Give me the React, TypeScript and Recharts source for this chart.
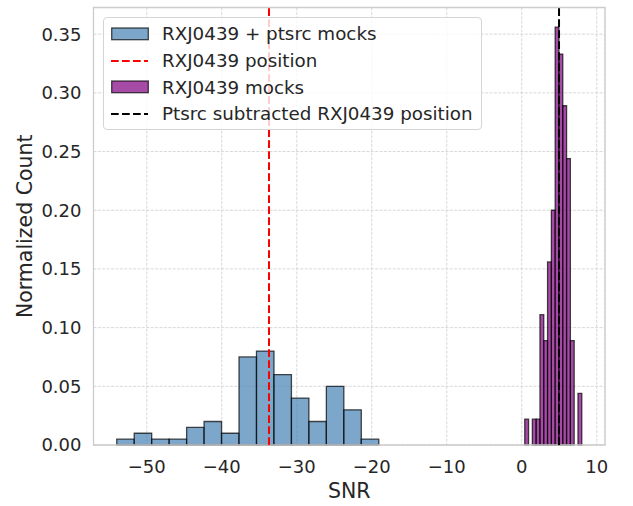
import { ComposedChart, XAxis, YAxis, CartesianGrid, ReferenceArea, ReferenceLine } from 'recharts';

// histogram of SNR, density normalized
const ptsrcStart = -54.0;
const ptsrcBinWidth = 2.329;
const ptsrcDensity = [0.005, 0.01, 0.005, 0.005, 0.015, 0.02, 0.01, 0.075, 0.08, 0.06, 0.04, 0.02, 0.05, 0.03, 0.005];

const mockStart = 0.4;
const mockBinWidth = 0.507;
const mockDensity = [0.022, 0, 0.022, 0.022, 0.111, 0.089, 0.156, 0.2, 0.356, 0.333, 0.289, 0.244, 0.089, 0, 0.044];

const rxjPosition = -33.7;
const ptsrcSubPosition = 4.97;

const xTicks = [-50, -40, -30, -20, -10, 0, 10];
const yTicks = [0, 0.05, 0.1, 0.15, 0.2, 0.25, 0.3, 0.35];
const xDomain: [number, number] = [-57.1, 11.1];
const yDomain: [number, number] = [0, 0.3727];

const FONT = '"DejaVu Sans", sans-serif';
const TEXT = '#262626';
const BLUE = '#4682b4';
const PURPLE = '#800080';

const toBins = (start: number, w: number, vals: number[]) =>
  vals.map((v, i) => ({ x1: start + i * w, x2: start + (i + 1) * w, y: v }));

const ptsrcBins = toBins(ptsrcStart, ptsrcBinWidth, ptsrcDensity);
const mockBins = toBins(mockStart, mockBinWidth, mockDensity).filter((b) => b.y > 0);

const fmtX = (v: number) => (v < 0 ? '\u2212' + Math.abs(v) : String(v));

function LegendBox() {
  const rows = [
    { kind: 'patch', color: BLUE, label: 'RXJ0439 + ptsrc mocks' },
    { kind: 'line', color: '#ff0000', label: 'RXJ0439 position' },
    { kind: 'patch', color: PURPLE, label: 'RXJ0439 mocks' },
    { kind: 'line', color: '#000000', label: 'Ptsrc subtracted RXJ0439 position' },
  ];
  return (
    <div
      style={{
        position: 'absolute',
        left: 103,
        top: 17,
        width: 379,
        height: 113,
        border: '1px solid #d5d5d5',
        borderRadius: 4,
        background: 'rgba(255,255,255,0.8)',
        paddingTop: 2.5,
        boxSizing: 'border-box',
      }}
    >
      {rows.map((r) => (
        <div key={r.label} style={{ display: 'flex', alignItems: 'center', height: 26.7 }}>
          <svg width={38} height={14} style={{ marginLeft: 7, flex: 'none' }}>
            {r.kind === 'patch' ? (
              <rect x={0.7} y={1} width={36.6} height={11.7} fill={r.color} fillOpacity={0.7} stroke="#000" strokeOpacity={0.7} strokeWidth={1.3} />
            ) : (
              <line x1={0} x2={37} y1={7} y2={7} stroke={r.color} strokeWidth={2} strokeDasharray="7.7 3.3" />
            )}
          </svg>
          <span style={{ marginLeft: 13, fontSize: 18.3, color: TEXT, fontFamily: FONT, whiteSpace: 'nowrap' }}>{r.label}</span>
        </div>
      ))}
    </div>
  );
}

export default function App() {
  return (
    <div style={{ position: 'absolute', left: 0, top: 0, width: 633, height: 506, background: '#fff', fontFamily: FONT }}>
      <ComposedChart width={633} height={506} margin={{ top: 7.5, right: 28, bottom: 0, left: 0 }} data={ptsrcBins}>
        <CartesianGrid stroke="#d4d4d4" strokeWidth={0.9} strokeDasharray="3 1.4" />
        <XAxis
          type="number"
          dataKey="x1"
          domain={xDomain}
          allowDataOverflow
          ticks={xTicks}
          tickFormatter={fmtX}
          tickLine={false}
          axisLine={false}
          height={61}
          tickSize={0}
          tickMargin={15}
          tick={{ fill: TEXT, fontSize: 18, fontFamily: FONT }}
          label={() => (
            <text x={349.25} y={497.5} textAnchor="middle" fill={TEXT} fontSize={20.5} fontFamily={FONT}>
              SNR
            </text>
          )}
        />
        <YAxis
          type="number"
          domain={yDomain}
          allowDataOverflow
          ticks={yTicks}
          tickFormatter={(v: number) => v.toFixed(2)}
          tickLine={false}
          axisLine={false}
          width={93.5}
          tickSize={0}
          tickMargin={12}
          tick={{ fill: TEXT, fontSize: 18, fontFamily: FONT }}
          label={() => (
            <text x={31.5} y={226.25} transform="rotate(-90 31.5 226.25)" textAnchor="middle" fill={TEXT} fontSize={20.5} fontFamily={FONT}>
              Normalized Count
            </text>
          )}
        />
        {ptsrcBins.map((b, i) => (
          <ReferenceArea
            key={'p' + i}
            x1={b.x1}
            x2={b.x2}
            y1={0}
            y2={b.y}
            fill={BLUE}
            fillOpacity={0.7}
            stroke="#000"
            strokeOpacity={0.7}
            strokeWidth={1.3}
            ifOverflow="visible"
          />
        ))}
        <ReferenceLine x={rxjPosition} stroke="#ff0000" strokeWidth={2} strokeDasharray="7.7 3.3" />
        {mockBins.map((b, i) => (
          <ReferenceArea
            key={'m' + i}
            x1={b.x1}
            x2={b.x2}
            y1={0}
            y2={b.y}
            fill={PURPLE}
            fillOpacity={0.7}
            stroke="#000"
            strokeOpacity={0.7}
            strokeWidth={1.3}
            ifOverflow="visible"
          />
        ))}
        <ReferenceLine x={ptsrcSubPosition} stroke="#000" strokeWidth={2} strokeDasharray="7.7 3.3" />
        <ReferenceArea
          x1={xDomain[0]}
          x2={xDomain[1]}
          y1={yDomain[0]}
          y2={yDomain[1]}
          fill="none"
          stroke="#cccccc"
          strokeWidth={1.3}
          ifOverflow="visible"
        />
      </ComposedChart>
      <LegendBox />
    </div>
  );
}
